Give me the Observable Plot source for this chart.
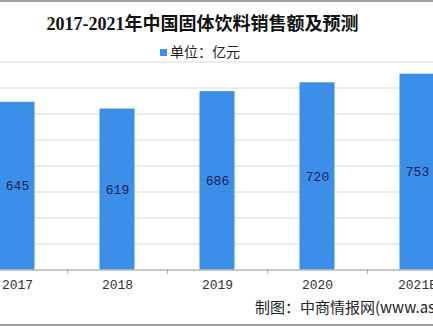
<!DOCTYPE html>
<html>
<head>
<meta charset="utf-8">
<script src="https://cdn.jsdelivr.net/npm/d3@7"></script>
<script src="https://cdn.jsdelivr.net/npm/@observablehq/plot@0.6"></script>
<style>
  html, body { margin: 0; padding: 0; background: #fff; }
  #wrap { position: relative; width: 433px; height: 326px; overflow: hidden; background: #fff; }
  #chart { position: absolute; left: -33px; top: 0; width: 500px; }
  #chart svg { max-width: none !important; }
  .title { position: absolute; left: 0; width: 405px; top: 11px; text-align: center;
    font: bold 18px "Liberation Serif", "Noto Sans CJK SC", serif; color: #111; line-height: 26px; }
  .legend { position: absolute; left: 160px; top: 42px; font: 14px "Noto Sans CJK SC", sans-serif; color: #222; line-height: 18px; white-space: nowrap; }
  .legend .sw { display: inline-block; width: 7px; height: 7px; background: #3c8fe8; margin-right: 3px; vertical-align: 1px; }
  .caption { position: absolute; left: 255px; top: 297px; font: 15px "Noto Sans CJK SC", sans-serif; color: #222; white-space: nowrap; line-height: 20px; }
  .bt { position: absolute; left: 0; width: 433px; height: 2px; background: #a0a0a0; }
</style>
</head>
<body>
<div id="wrap">
  <div class="bt" style="top:0"></div>
  <div id="chart"></div>
  <div class="title">2017-2021年中国固体饮料销售额及预测</div>
  <div class="legend"><span class="sw"></span>单位：亿元</div>
  <div class="caption">制图：中商情报网(www.askci.com)</div>
  <div class="bt" style="top:324px"></div>
</div>
<script>
const categories = ["2017", "2018", "2019", "2020", "2021E"];
const values = [645, 619, 686, 720, 753];
const yTicks = [0, 100, 200, 300, 400, 500, 600, 700, 800];

const data = categories.map((c, i) => ({i, c, v: values[i]}));
const boundaries = categories.slice(1).map((c, i) => i + 0.5);

const chart = Plot.plot({
  width: 500,
  height: 326,
  marginTop: 61.5,
  marginBottom: 56.5,
  marginLeft: 0,
  marginRight: 0,
  style: {fontFamily: "Liberation Mono, monospace", background: "transparent"},
  x: {type: "linear", domain: [-0.5, categories.length - 0.5], axis: null, label: null},
  y: {domain: [0, 800], axis: null, label: null},
  marks: [
    Plot.gridY(yTicks, {stroke: "#d9d9d9", strokeOpacity: 1}),
    Plot.rectY(data, {x1: d => d.i - 0.175, x2: d => d.i + 0.175, y: "v", fill: "#3c8fe8"}),
    Plot.ruleY([0], {stroke: "#a6a6a6"}),
    Plot.axisX(boundaries, {tickSize: 4, tickFormat: () => "", stroke: "#a6a6a6", label: null}),
    Plot.axisX(data.map(d => d.i), {tickSize: 0, tickPadding: 10, tickFormat: i => categories[i], fontSize: 13, fill: "#333", label: null}),
    Plot.text(data, {x: "i", y: d => d.v / 2, text: d => String(d.v), fill: "#1b2060", fontSize: 13, fontFamily: "Liberation Mono, monospace"})
  ]
});
document.getElementById("chart").appendChild(chart);
</script>
</body>
</html>
